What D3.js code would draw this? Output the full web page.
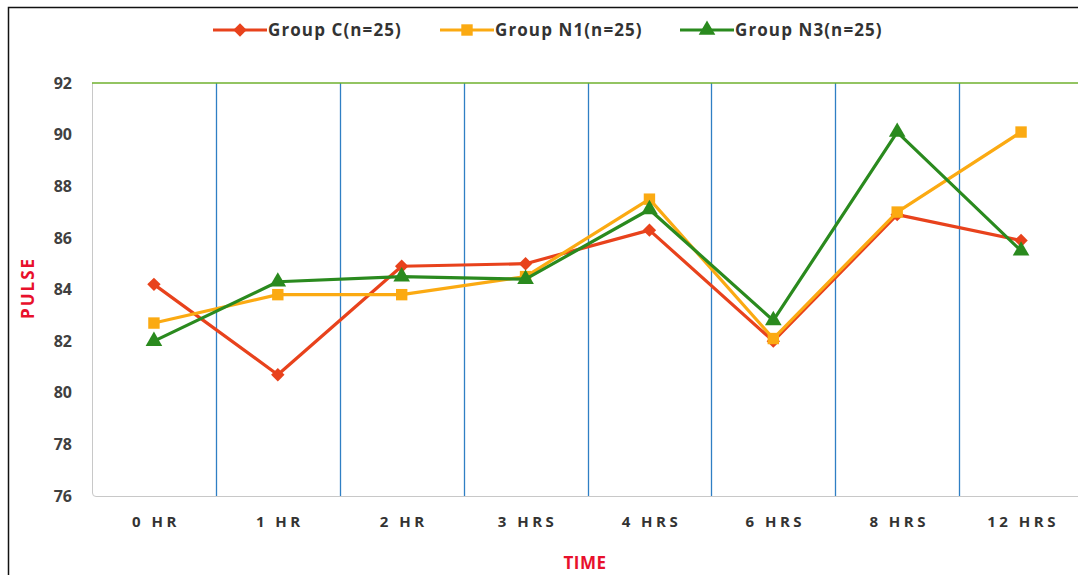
<!DOCTYPE html>
<html><head><meta charset="utf-8">
<script src="https://cdn.jsdelivr.net/npm/d3@7"></script>
<style>
html,body{margin:0;padding:0;background:#fff;}
svg{display:block;}
text{font-family:"Open Sans","DejaVu Sans",sans-serif;}
</style></head>
<body><svg id="chart" width="1078" height="575"></svg>
<script>
const categories = ["0 HR","1 HR","2 HR","3 HRS","4 HRS","6 HRS","8 HRS","12 HRS"];
const groupC  = [84.2, 80.7, 84.9, 85.0, 86.3, 82.0, 86.9, 85.9];
const groupN1 = [82.7, 83.8, 83.8, 84.5, 87.5, 82.1, 87.0, 90.1];
const groupN3 = [82.0, 84.3, 84.5, 84.4, 87.1, 82.8, 90.1, 85.5];
const yTicks  = [76, 78, 80, 82, 84, 86, 88, 90, 92];
const seriesNames = ["Group C(n=25)", "Group N1(n=25)", "Group N3(n=25)"];

const series = [
  {name: seriesNames[0], values: groupC,  color: "#e8421c", marker: "diamond"},
  {name: seriesNames[1], values: groupN1, color: "#fbaa12", marker: "square"},
  {name: seriesNames[2], values: groupN3, color: "#2a8a1e", marker: "triangle"}
];

const svg = d3.select("#chart");
const L = 92, R = 1083, T = 83, B = 496;

// outer frame
svg.append("path").attr("d", `M8.5,575 V7.5 H1078`).attr("fill","none").attr("stroke","#111").attr("stroke-width",1.5);

const x = d3.scaleBand().domain(categories).range([L, R]).padding(0);
const y = d3.scaleLinear().domain([76, 92]).range([B, T]);

// plot area border (left + bottom, light gray)
svg.append("path").attr("d", `M${L+0.5},${T} V${B-3} Q${L+0.5},${B+0.5} ${L+4},${B+0.5} H${R}`)
  .attr("fill","none").attr("stroke","#c8c8c8").attr("stroke-width",1);

// vertical blue separators between categories
svg.append("g").selectAll("line").data(categories.slice(1)).join("line")
  .attr("x1", d => Math.round(x(d))+0.5).attr("x2", d => Math.round(x(d))+0.5)
  .attr("y1", T).attr("y2", B)
  .attr("stroke", "#2f7fc4").attr("stroke-width", 1.3);

// top green line
svg.append("line").attr("x1", L).attr("x2", 1078).attr("y1", y(92)).attr("y2", y(92))
  .attr("stroke","#6fb02e").attr("stroke-width",1.6);

// y axis
const yAxis = svg.append("g").attr("transform", `translate(${L},0)`)
  .call(d3.axisLeft(y).tickValues(yTicks).tickSize(0).tickPadding(20).tickFormat(d3.format("d")));
yAxis.select(".domain").remove();
yAxis.selectAll("text").attr("font-size", 16).attr("font-weight", "bold").attr("fill", "#404040");

// x axis
const xAxis = svg.append("g").attr("transform", `translate(0,${B})`)
  .call(d3.axisBottom(x).tickSize(0).tickPadding(20));
xAxis.select(".domain").remove();
xAxis.selectAll("text").attr("font-size", 15).attr("font-weight", "bold").attr("fill", "#333")
  .attr("letter-spacing", "3.5px").attr("dx", "2px");

// axis titles
svg.append("text").attr("x", 585).attr("y", 569).attr("text-anchor","middle")
  .attr("font-size", 17).attr("font-weight","bold").attr("fill","#e8102c").attr("letter-spacing","0.5px").text("TIME");
svg.append("text").attr("transform","translate(34,288) rotate(-90)").attr("text-anchor","middle")
  .attr("font-size", 17).attr("font-weight","bold").attr("fill","#e8102c").attr("letter-spacing","2px").text("PULSE");

const symType = {diamond: d3.symbolSquare, square: d3.symbolSquare, triangle: d3.symbolTriangle};
const symSize = {diamond: 90, square: 130, triangle: 120};
const symRot  = {diamond: 45, square: 0, triangle: 0};

const line = d3.line().x((d,i) => x(categories[i]) + x.bandwidth()/2).y(d => y(d));

series.forEach(s => {
  const g = svg.append("g");
  g.append("path").datum(s.values).attr("d", line).attr("fill","none")
    .attr("stroke", s.color).attr("stroke-width", 3.2).attr("stroke-linejoin","round");
  g.selectAll("path.m").data(s.values).join("path").attr("class","m")
    .attr("transform", (d,i) => `translate(${x(categories[i]) + x.bandwidth()/2},${y(d)}) rotate(${symRot[s.marker]})`)
    .attr("d", d3.symbol().type(symType[s.marker]).size(symSize[s.marker]))
    .attr("fill", s.color);
});

// legend
const legX = [213, 440, 680];
series.forEach((s, i) => {
  const g = svg.append("g").attr("transform", `translate(${legX[i]},30)`);
  g.append("line").attr("x1",0).attr("x2",54).attr("y1",0).attr("y2",0)
    .attr("stroke", s.color).attr("stroke-width",3.2);
  g.append("path").attr("transform",`translate(27,0) rotate(${symRot[s.marker]})`)
    .attr("d", d3.symbol().type(symType[s.marker]).size(symSize[s.marker]))
    .attr("fill", s.color);
  g.append("text").attr("x", 55).attr("y", 6).attr("font-size", 17).attr("font-weight","bold")
    .attr("fill","#333").attr("letter-spacing","1.1px").text(s.name);
});
</script></body></html>
